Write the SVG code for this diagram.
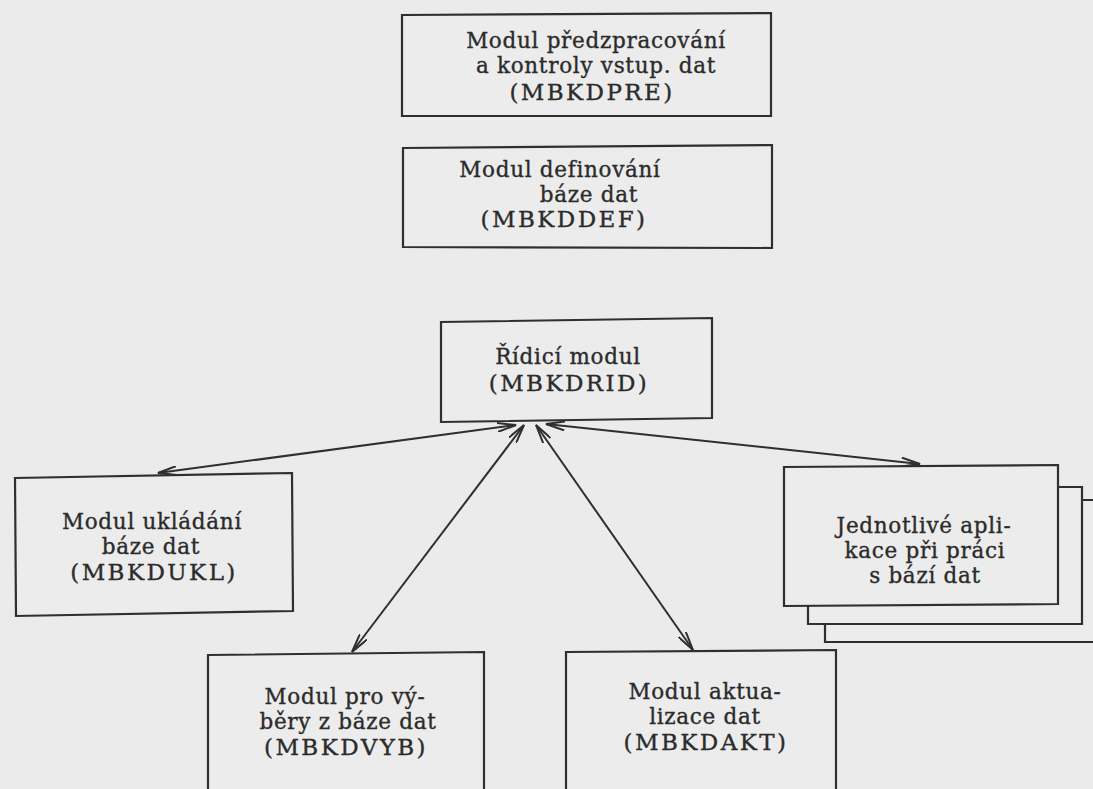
<svg xmlns="http://www.w3.org/2000/svg" width="1093" height="789" viewBox="0 0 1093 789">
  <defs>
    <style>
      .box { fill: #ececec; stroke: #2f2f2f; stroke-width: 2.2; stroke-linejoin: miter; }
      .lbl { font-family: "DejaVu Serif", "Liberation Serif", serif; font-size: 21.5px; fill: #2b2b2b; stroke: #2b2b2b; stroke-width: 0.35; text-anchor: middle; letter-spacing: 0.7px; }
      .code { font-size: 23px; letter-spacing: 2.4px; }
      .link { fill: none; stroke: #2f2f2f; stroke-width: 2; }
    </style>
    <marker id="head" viewBox="0 0 20 10" refX="19" refY="5" markerWidth="20" markerHeight="10" markerUnits="userSpaceOnUse" orient="auto-start-reverse">
      <path d="M0,0.5 L19,5 L0,9.5" fill="none" stroke="#2f2f2f" stroke-width="2"/>
    </marker>
  </defs>

  <!-- page -->
  <rect x="0" y="0" width="1093" height="789" fill="#ebebeb"/>

  <!-- input preprocessing module -->
  <g id="mbkdpre">
    <polygon class="box" points="402,15 771,13 771,116 402,116"/>
    <text class="lbl" x="596" y="48">Modul předzpracování</text>
    <text class="lbl" x="596" y="73">a kontroly vstup. dat</text>
    <text class="lbl code" x="592" y="100">(MBKDPRE)</text>
  </g>

  <!-- database definition module -->
  <g id="mbkddef">
    <polygon class="box" points="403,148 772,145 772,248 403,247"/>
    <text class="lbl" x="560" y="177">Modul definování</text>
    <text class="lbl" x="589" y="202">báze dat</text>
    <text class="lbl code" x="564" y="227">(MBKDDEF)</text>
  </g>

  <!-- control module -->
  <g id="mbkdrid">
    <polygon class="box" points="441,322 712,318 712,418 441,422"/>
    <text class="lbl" x="568" y="364">Řídicí modul</text>
    <text class="lbl code" x="569" y="391">(MBKDRID)</text>
  </g>

  <!-- database storage module -->
  <g id="mbkdukl">
    <polygon class="box" points="15,478 292,473 293,611 16,616"/>
    <text class="lbl" x="152" y="529">Modul ukládání</text>
    <text class="lbl" x="151" y="554">báze dat</text>
    <text class="lbl code" x="154" y="580">(MBKDUKL)</text>
  </g>

  <!-- stacked applications -->
  <g id="aplikace">
    <polygon class="box" points="825,500 1100,500 1100,642 825,642"/>
    <polygon class="box" points="808,487 1082,487 1082,624 808,624"/>
    <polygon class="box" points="784,467 1058,465 1058,604 784,606"/>
    <text class="lbl" x="924" y="533">Jednotlivé apli-</text>
    <text class="lbl" x="925" y="558">kace při práci</text>
    <text class="lbl" x="925" y="583">s bází dat</text>
  </g>

  <!-- selection module -->
  <g id="mbkdvyb">
    <polygon class="box" points="208,655 484,652 484,800 208,800"/>
    <text class="lbl" x="345" y="704">Modul pro vý-</text>
    <text class="lbl" x="348" y="729">běry z báze dat</text>
    <text class="lbl code" x="346" y="755">(MBKDVYB)</text>
  </g>

  <!-- update module -->
  <g id="mbkdakt">
    <polygon class="box" points="566,652 836,650 836,800 566,800"/>
    <text class="lbl" x="705" y="699">Modul aktua-</text>
    <text class="lbl" x="705" y="724">lizace dat</text>
    <text class="lbl code" x="706" y="750">(MBKDAKT)</text>
  </g>

  <!-- two-way links from the control module -->
  <g id="connectors">
    <line class="link" x1="516" y1="425" x2="158" y2="473" marker-start="url(#head)" marker-end="url(#head)"/>
    <line class="link" x1="524" y1="425" x2="352" y2="652" marker-start="url(#head)" marker-end="url(#head)"/>
    <line class="link" x1="536" y1="425" x2="693" y2="650" marker-start="url(#head)" marker-end="url(#head)"/>
    <line class="link" x1="546" y1="424" x2="920" y2="464" marker-start="url(#head)" marker-end="url(#head)"/>
  </g>
</svg>
